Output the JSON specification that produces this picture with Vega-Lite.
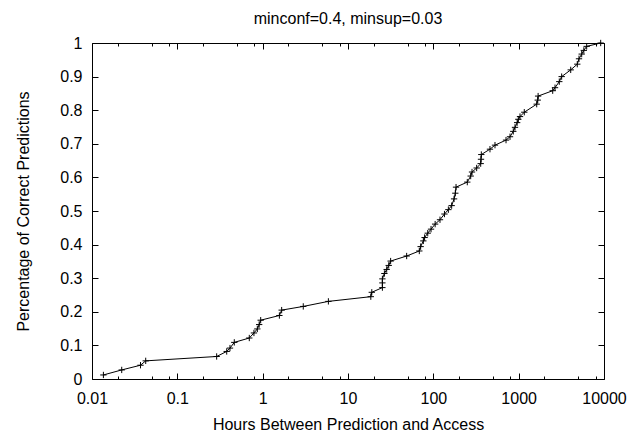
{
  "$schema": "https://vega.github.io/schema/vega-lite/v6.json",
  "width": 512,
  "height": 336,
  "autosize": {"type": "none"},
  "padding": {"left": 92, "top": 43, "right": 27, "bottom": 55},
  "background": "white",
  "title": {"text": "minconf=0.4, minsup=0.03", "anchor": "middle", "offset": 8, "fontSize": 16, "font": "Liberation Sans", "fontWeight": "normal", "color": "black"},
  "config": {
    "view": {"stroke": "black", "strokeWidth": 1},
    "axis": {"domain": false, "grid": false, "labelFont": "Liberation Sans", "titleFont": "Liberation Sans", "labelFontSize": 16, "titleFontSize": 16, "labelColor": "black", "titleColor": "black", "titleFontWeight": "normal", "tickColor": "black", "tickWidth": 1}
  },
  "data": {"values": [
    {"hours": 0.0136, "pct": 0.012},
    {"hours": 0.0223, "pct": 0.027},
    {"hours": 0.037, "pct": 0.041},
    {"hours": 0.0426, "pct": 0.054},
    {"hours": 0.289, "pct": 0.067},
    {"hours": 0.379, "pct": 0.082},
    {"hours": 0.414, "pct": 0.092},
    {"hours": 0.465, "pct": 0.109},
    {"hours": 0.697, "pct": 0.122},
    {"hours": 0.79, "pct": 0.137},
    {"hours": 0.866, "pct": 0.149},
    {"hours": 0.91, "pct": 0.162},
    {"hours": 0.948, "pct": 0.175},
    {"hours": 1.57, "pct": 0.189},
    {"hours": 1.67, "pct": 0.205},
    {"hours": 2.99, "pct": 0.216},
    {"hours": 5.89, "pct": 0.231},
    {"hours": 18.5, "pct": 0.245},
    {"hours": 19.0, "pct": 0.258},
    {"hours": 25.3, "pct": 0.272},
    {"hours": 25.3, "pct": 0.286},
    {"hours": 25.3, "pct": 0.298},
    {"hours": 26.7, "pct": 0.314},
    {"hours": 28.4, "pct": 0.326},
    {"hours": 30.0, "pct": 0.338},
    {"hours": 31.6, "pct": 0.351},
    {"hours": 48.7, "pct": 0.366},
    {"hours": 68.5, "pct": 0.381},
    {"hours": 71, "pct": 0.394},
    {"hours": 76.4, "pct": 0.411},
    {"hours": 79, "pct": 0.421},
    {"hours": 86, "pct": 0.434},
    {"hours": 94, "pct": 0.446},
    {"hours": 105, "pct": 0.461},
    {"hours": 119.7, "pct": 0.474},
    {"hours": 135, "pct": 0.491},
    {"hours": 150, "pct": 0.504},
    {"hours": 164, "pct": 0.516},
    {"hours": 175, "pct": 0.536},
    {"hours": 181, "pct": 0.553},
    {"hours": 184.5, "pct": 0.571},
    {"hours": 250, "pct": 0.586},
    {"hours": 274, "pct": 0.604},
    {"hours": 284, "pct": 0.616},
    {"hours": 322, "pct": 0.628},
    {"hours": 359, "pct": 0.641},
    {"hours": 362, "pct": 0.654},
    {"hours": 365, "pct": 0.668},
    {"hours": 461, "pct": 0.684},
    {"hours": 528, "pct": 0.696},
    {"hours": 711, "pct": 0.711},
    {"hours": 792, "pct": 0.721},
    {"hours": 865, "pct": 0.737},
    {"hours": 906, "pct": 0.749},
    {"hours": 960, "pct": 0.763},
    {"hours": 991, "pct": 0.773},
    {"hours": 1037, "pct": 0.781},
    {"hours": 1164, "pct": 0.794},
    {"hours": 1627, "pct": 0.818},
    {"hours": 1673, "pct": 0.83},
    {"hours": 1690, "pct": 0.842},
    {"hours": 2506, "pct": 0.858},
    {"hours": 2667, "pct": 0.867},
    {"hours": 2992, "pct": 0.885},
    {"hours": 3191, "pct": 0.9},
    {"hours": 4073, "pct": 0.92},
    {"hours": 4864, "pct": 0.937},
    {"hours": 5093, "pct": 0.953},
    {"hours": 5478, "pct": 0.967},
    {"hours": 5800, "pct": 0.978},
    {"hours": 6266, "pct": 0.99},
    {"hours": 9146, "pct": 1.0}
  ]},
  "resolve": {"axis": {"x": "independent", "y": "independent"}},
  "layer": [
    {
      "mark": {"type": "line", "color": "black", "strokeWidth": 1},
      "encoding": {
        "x": {"field": "hours", "type": "quantitative", "scale": {"type": "log", "domain": [0.01, 10000], "nice": false},
              "axis": {"orient": "bottom", "values": [0.01, 0.1, 1, 10, 100, 1000, 10000], "format": "~g", "ticks": false, "labelPadding": 11, "labelFlush": false, "labelOverlap": false, "title": "Hours Between Prediction and Access", "titlePadding": 10}},
        "y": {"field": "pct", "type": "quantitative", "scale": {"domain": [0, 1], "nice": false, "zero": false},
              "axis": {"orient": "left", "values": [0, 0.1, 0.2, 0.3, 0.4, 0.5, 0.6, 0.7, 0.8, 0.9, 1], "format": "~g", "ticks": false, "labelPadding": 10, "title": "Percentage of Correct Predictions", "titlePadding": 28}},
        "order": {"field": "pct", "type": "quantitative"}
      }
    },
    {
      "mark": {"type": "point", "shape": "M-1,0H1M0,-1V1", "filled": false, "stroke": "black", "strokeWidth": 1, "size": 40, "opacity": 1},
      "encoding": {
        "x": {"field": "hours", "type": "quantitative", "axis": {"orient": "bottom", "values": [0.01, 0.1, 1, 10, 100, 1000, 10000], "labels": false, "tickSize": -6, "title": null}},
        "y": {"field": "pct", "type": "quantitative", "axis": {"orient": "left", "values": [0, 0.1, 0.2, 0.3, 0.4, 0.5, 0.6, 0.7, 0.8, 0.9, 1], "labels": false, "tickSize": -6, "title": null}}
      }
    },
    {
      "mark": {"type": "point", "opacity": 0},
      "encoding": {
        "x": {"field": "hours", "type": "quantitative", "axis": {"orient": "bottom", "values": [0.02, 0.05, 0.08, 0.2, 0.5, 0.8, 2, 5, 8, 20, 50, 80, 200, 500, 800, 2000, 5000, 8000], "labels": false, "tickSize": -3, "title": null}},
        "y": {"field": "pct", "type": "quantitative", "axis": {"orient": "right", "values": [0, 0.1, 0.2, 0.3, 0.4, 0.5, 0.6, 0.7, 0.8, 0.9, 1], "labels": false, "tickSize": -6, "title": null}}
      }
    },
    {
      "mark": {"type": "point", "opacity": 0},
      "encoding": {
        "x": {"field": "hours", "type": "quantitative", "axis": {"orient": "top", "values": [0.01, 0.1, 1, 10, 100, 1000, 10000], "labels": false, "tickSize": -6, "title": null}},
        "y": {"field": "pct", "type": "quantitative", "axis": null}
      }
    },
    {
      "mark": {"type": "point", "opacity": 0},
      "encoding": {
        "x": {"field": "hours", "type": "quantitative", "axis": {"orient": "top", "values": [0.02, 0.05, 0.08, 0.2, 0.5, 0.8, 2, 5, 8, 20, 50, 80, 200, 500, 800, 2000, 5000, 8000], "labels": false, "tickSize": -3, "title": null}},
        "y": {"field": "pct", "type": "quantitative", "axis": null}
      }
    }
  ]
}
